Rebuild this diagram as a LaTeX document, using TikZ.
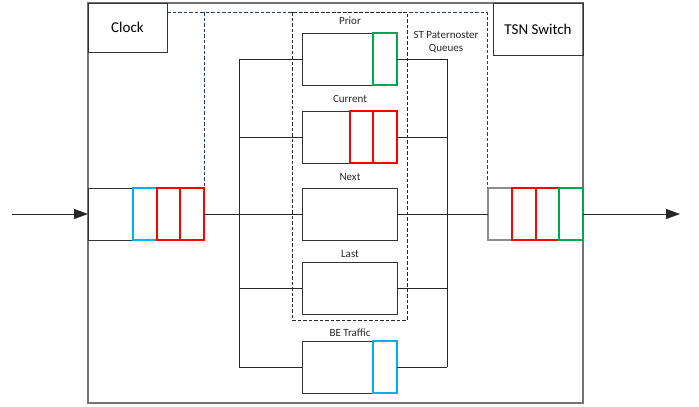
\documentclass[tikz,border=0pt]{standalone}
\usepackage{fontspec}
\setmainfont{Carlito}
\usetikzlibrary{arrows.meta}
\definecolor{qcyan}{RGB}{0,176,240}
\definecolor{qred}{RGB}{255,0,0}
\definecolor{qgreen}{RGB}{0,166,80}
\definecolor{dashblue}{RGB}{40,60,110}
\begin{document}
\begin{tikzpicture}[x=1pt,y=-1pt,
  every node/.style={inner sep=0pt,outer sep=0pt},
  frame/.style={draw=black!55,line width=1.1pt,anchor=north west},
  titlebox/.style={draw=black!80,line width=1pt,anchor=north west,font=\fontsize{15}{17}\selectfont},
  qbox/.style={draw=black!80,line width=1pt,anchor=north west,minimum width=95pt,minimum height=52pt},
  cell/.style={draw=#1,line width=1.4pt,anchor=north west,minimum width=24pt,minimum height=52pt},
  qlabel/.style={font=\fontsize{11}{12.5}\selectfont,text=black!85},
  wire/.style={draw=black!85,line width=0.9pt},
  regionline/.style={dash pattern=on 3.5pt off 2pt,line width=0.8pt},
  arrowline/.style={draw=black!85,line width=0.9pt,-{Triangle[length=14pt,width=10pt]}}
]
\useasboundingbox (0,0) rectangle (699,407);
% switch frame
\node[frame,minimum width=495pt,minimum height=400pt] (switch) at (88,3) {};
\node[titlebox,minimum width=79pt,minimum height=49pt] (clock) at (88,3) {Clock};
\node[titlebox,minimum width=90pt,minimum height=52pt] (tsn) at (493,3) {TSN Switch};
% queues
\node[qbox] (prior) at (302,33) {};
\node[qbox] (current) at (302,111) {};
\node[qbox] (next) at (302,188) {};
\node[qbox] (last) at (302,262) {};
\node[qbox] (be) at (302,341) {};
\node[cell=qgreen] (priorc1) at (373,33) {};
\node[cell=qred,minimum width=23pt] (curc1) at (350,111) {};
\node[cell=qred] (curc2) at (373,111) {};
\node[cell=qcyan] (bec1) at (373,341) {};
\node[qlabel] (priorl) at (350,21) {Prior};
\node[qlabel] (currentl) at (350,99) {Current};
\node[qlabel] (nextl) at (350,177) {Next};
\node[qlabel] (lastl) at (350,254) {Last};
\node[qlabel] (bel) at (350,333) {BE Traffic};
\node[qlabel,align=center] (stl) at (446,42) {ST Paternoster\\Queues};
% input / output queues
\node[qbox,minimum width=116pt] (inq) at (88,188) {};
\node[cell=qcyan] (inc1) at (133,188) {};
\node[cell=qred,minimum width=23pt] (inc2) at (157,188) {};
\node[cell=qred] (inc3) at (180,188) {};
\node[qbox] (outq) at (488,188) {};
\node[cell=black!45] (outc0) at (488,188) {};
\node[cell=qred] (outc1) at (512,188) {};
\node[cell=qred,minimum width=23pt] (outc2) at (536,188) {};
\node[cell=qgreen] (outc3) at (559,188) {};
% dashed regions
\draw[dashblue,regionline] (clock.east |- 0,12) -- (487,12) -- (487,188);
\draw[dashblue,regionline] (inq.north east |- 0,12) -- (inq.north east);
\draw[black!85,regionline] (292,12) rectangle (407,320);
% buses
\coordinate (lbus) at (239,0);
\coordinate (rbus) at (447,0);
\draw[wire] (prior.west -| lbus) -- (be.west -| lbus);
\draw[wire] (prior.east -| rbus) -- (be.east -| rbus);
\foreach \q in {prior,current,last,be}{
  \draw[wire] (\q.west) -- (\q.west -| lbus);
  \draw[wire] (\q.east) -- (\q.east -| rbus);
}
\draw[wire] (inq.east) -- (next.west);
\draw[wire] (next.east) -- (outq.west);
% in / out arrows
\coordinate (src) at (12,214);
\coordinate (sink) at (680,214);
\draw[arrowline] (src) -- (inq.west);
\draw[arrowline] (outq.east) -- (sink);
\end{tikzpicture}
\end{document}
